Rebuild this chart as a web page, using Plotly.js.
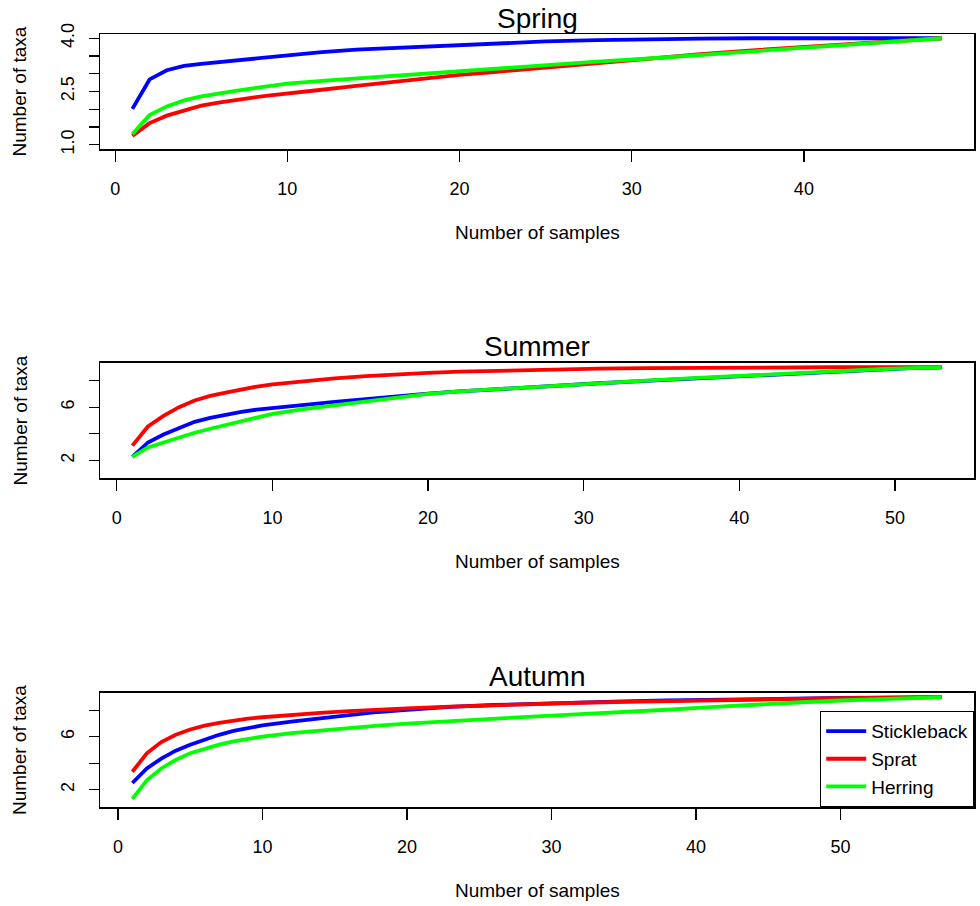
<!DOCTYPE html>
<html>
<head>
<meta charset="utf-8">
<script src="https://cdn.plot.ly/plotly-3.0.1.min.js"></script>
<style>html,body{margin:0;padding:0;background:#fff;}#chart{width:980px;height:906px;}</style>
</head>
<body>
<div id="chart"></div>
<script>
// ---- data ----
const seriesNames = ["Stickleback", "Sprat", "Herring"];
const seriesColors = ["#0000FF", "#FF0000", "#00FF00"];
const panelTitles = ["Spring", "Summer", "Autumn"];

const springX = [1,2,3,4,5,6,7,8,9,10,12,14,16,18,20,22,25,28,31,34,37,40,43,46,48];
const springStickleback = [2.01,2.84,3.10,3.22,3.28,3.33,3.37,3.41,3.46,3.52,3.61,3.68,3.72,3.77,3.82,3.86,3.91,3.95,3.98,3.99,4.0,4.0,4.0,4.0,4.0];
const springSprat = [1.25,1.61,1.82,1.97,2.10,2.19,2.27,2.33,2.39,2.45,2.55,2.66,2.77,2.87,2.97,3.05,3.18,3.31,3.43,3.55,3.66,3.76,3.86,3.95,4.0];
const springHerring = [1.30,1.84,2.08,2.25,2.36,2.45,2.52,2.59,2.66,2.72,2.80,2.87,2.94,3.01,3.08,3.15,3.24,3.34,3.43,3.53,3.63,3.72,3.82,3.93,4.0];

const summerX = [1,2,3,4,5,6,7,8,9,10,12,14,16,18,20,22,25,28,31,34,37,40,43,46,49,51,53];
const summerStickleback = [2.26,3.35,3.95,4.45,4.90,5.20,5.45,5.65,5.82,5.95,6.15,6.40,6.60,6.82,7.02,7.18,7.40,7.60,7.80,7.98,8.16,8.34,8.52,8.70,8.84,8.93,9.0];
const summerSprat = [3.11,4.55,5.35,6.00,6.50,6.85,7.10,7.35,7.55,7.72,7.98,8.17,8.33,8.48,8.58,8.67,8.76,8.83,8.89,8.93,8.96,8.98,9.0,9.0,9.0,9.0,9.0];
const summerHerring = [2.26,2.98,3.35,3.72,4.08,4.38,4.65,4.95,5.25,5.50,5.85,6.12,6.40,6.70,7.00,7.19,7.41,7.62,7.82,8.00,8.18,8.36,8.54,8.71,8.85,8.94,9.0];

const autumnX = [1,2,3,4,5,6,7,8,9,10,12,14,16,18,20,23,26,29,32,35,38,41,44,47,50,53,55,57];
const autumnStickleback = [2.50,3.60,4.35,4.95,5.40,5.80,6.15,6.45,6.67,6.86,7.15,7.40,7.62,7.88,8.05,8.27,8.41,8.52,8.60,8.68,8.75,8.81,8.86,8.90,8.94,8.97,8.99,9.0];
const autumnSprat = [3.35,4.75,5.60,6.15,6.55,6.85,7.05,7.25,7.38,7.48,7.68,7.82,7.95,8.07,8.15,8.28,8.40,8.50,8.58,8.65,8.72,8.78,8.83,8.87,8.92,8.95,8.98,9.0];
const autumnHerring = [1.30,2.70,3.60,4.25,4.75,5.10,5.40,5.65,5.85,6.02,6.28,6.48,6.65,6.85,7.00,7.20,7.40,7.55,7.72,7.87,8.05,8.25,8.45,8.60,8.75,8.87,8.94,9.0];

const springYTicks = [1.0,1.5,2.0,2.5,3.0,3.5,4.0];
const springYTickText = ["1.0","","","2.5","","","4.0"];
const sumAutYTicks = [2,4,6,8];
const sumAutYTickText = ["2","","6",""];
const springXTicks = [0,10,20,30,40];
const sumAutXTicks = [0,10,20,30,40,50];

const xTitle = "Number of samples";
const yTitle = "Number of taxa";

// ---- build ----
const panels = [
  {x: springX, ys: [springStickleback, springSprat, springHerring], xr: [1,48], yr: [1,4], yt: springYTicks, ytt: springYTickText, xt: springXTicks, dom: [0.8512, 1.0]},
  {x: summerX, ys: [summerStickleback, summerSprat, summerHerring], xr: [1,53], yr: [1,9], yt: sumAutYTicks, ytt: sumAutYTickText, xt: sumAutXTicks, dom: [0.4256, 0.5744]},
  {x: autumnX, ys: [autumnStickleback, autumnSprat, autumnHerring], xr: [1,57], yr: [1,9], yt: sumAutYTicks, ytt: sumAutYTickText, xt: sumAutXTicks, dom: [0.0, 0.1475]}
];

const FONT = "Liberation Sans, Arial, Helvetica, sans-serif";
const traces = [];
const layout = {
  width: 980, height: 906,
  margin: {l: 100, r: 6, t: 34, b: 99, pad: 0},
  paper_bgcolor: "#fff", plot_bgcolor: "#fff",
  font: {family: FONT, size: 18, color: "#000"},
  showlegend: true,
  legend: {x: 1, y: 0, xanchor: "right", yanchor: "bottom", bgcolor: "#fff",
           bordercolor: "#000", borderwidth: 1.2, font: {size: 19, family: FONT},
           itemwidth: 40, tracegroupgap: 0},
  annotations: []
};

panels.forEach((p, i) => {
  const sfx = i === 0 ? "" : String(i + 1);
  p.ys.forEach((ys, k) => {
    traces.push({
      type: "scatter", mode: "lines", x: p.x, y: ys,
      xaxis: "x" + sfx, yaxis: "y" + sfx,
      name: seriesNames[k],
      showlegend: i === 2,
      line: {color: seriesColors[k], width: 3.8},
      hoverinfo: "skip"
    });
  });
  const xspan = p.xr[1] - p.xr[0], yspan = p.yr[1] - p.yr[0];
  layout["xaxis" + sfx] = {
    domain: [0, 1], anchor: "y" + sfx,
    range: [p.xr[0] - 0.04 * xspan, p.xr[1] + 0.04 * xspan],
    tickvals: p.xt, ticks: "outside", ticklen: 11, tickwidth: 1.3, tickcolor: "#000",
    showline: true, mirror: true, linecolor: "#000", linewidth: 1.5,
    showgrid: false, zeroline: false, fixedrange: true,
    tickfont: {size: 18, family: FONT, color: "#000"}, ticklabelstandoff: 12
  };
  layout["yaxis" + sfx] = {
    domain: p.dom, anchor: "x" + sfx,
    range: [p.yr[0] - 0.04 * yspan, p.yr[1] + 0.04 * yspan],
    tickvals: p.yt, ticktext: p.ytt, tickangle: -90,
    ticks: "outside", ticklen: 10, tickwidth: 1.3, tickcolor: "#000",
    showline: true, mirror: true, linecolor: "#000", linewidth: 1.5,
    showgrid: false, zeroline: false, fixedrange: true,
    tickfont: {size: 18, family: FONT, color: "#000"}, ticklabelstandoff: 7
  };
  // panel title
  layout.annotations.push({text: panelTitles[i], xref: "paper", yref: "paper", x: 0.5, y: p.dom[1],
    xanchor: "center", yanchor: "middle", yshift: 16, showarrow: false, font: {size: 28, family: FONT, color: "#000"}});
  // x title
  layout.annotations.push({text: xTitle, xref: "paper", yref: "paper", x: 0.5, y: p.dom[0],
    xanchor: "center", yanchor: "middle", yshift: -83, showarrow: false, font: {size: 19, family: FONT, color: "#000"}});
  // y title
  layout.annotations.push({text: yTitle, xref: "paper", yref: "paper", x: 0, y: (p.dom[0] + p.dom[1]) / 2,
    xanchor: "center", yanchor: "middle", xshift: -80, textangle: -90, showarrow: false, font: {size: 19, family: FONT, color: "#000"}});
});

Plotly.newPlot("chart", traces, layout, {displayModeBar: false, staticPlot: true});
</script>
</body>
</html>
